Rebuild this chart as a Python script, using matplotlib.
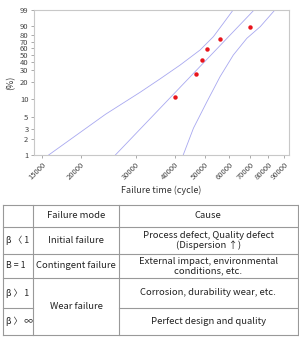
import numpy as np
import matplotlib.pyplot as plt

plt.rcParams['font.family'] = ['Noto Sans CJK KR', 'DejaVu Sans']

# failure data (cycles, median rank %)
fail_time = [40000, 47000, 49000, 51000, 56000, 70000]
fail_pct = [10.9, 26.6, 42.2, 57.8, 73.4, 89.1]

# fitted line and confidence bounds
fit_x = [25750, 72200]
fit_y = [1, 99]
upper_x = [15700, 24000, 31000, 35900, 41700, 48300, 53300, 57400, 61800]
upper_y = [1, 5.5, 13.3, 22.1, 36.2, 57.0, 77.2, 92.6, 99]
lower_x = [42600, 46000, 50800, 56000, 61800, 68300, 75400, 84200]
lower_y = [1, 3.1, 9.1, 24.0, 49.6, 74.9, 89.5, 99]

xticks = [15000, 20000, 30000, 40000, 50000, 60000, 70000, 80000, 90000]
yticks = [1, 2, 3, 5, 10, 20, 30, 40, 50, 60, 70, 80, 90, 99]

# table contents
beta_col = ['β 〈 1', 'B = 1', 'β 〉 1', 'β 〉 ∞']
mode_col = ['Initial failure', 'Contingent failure', 'Wear failure']
cause_col = ['Process defect, Quality defect\n(Dispersion ↑)',
             'External impact, environmental\nconditions, etc.',
             'Corrosion, durability wear, etc.',
             'Perfect design and quality']


def fwd(p):
    p = np.clip(np.asarray(p, dtype=float), 1e-6, 100 - 1e-6)
    return np.log(-np.log(1 - p / 100))


def inv(w):
    return 100 * (1 - np.exp(-np.exp(w)))


W, H = 299, 337
fig = plt.figure(figsize=(W / 100, H / 100), dpi=100)
ax = fig.add_axes([34 / W, 1 - 155.3 / H, 255 / W, 145.6 / H])

ax.set_xscale('log')
ax.set_yscale('function', functions=(fwd, inv))
ax.set_xlim(14130, 93300)
ax.set_ylim(1, 99)

lc = '#a8a8f0'
ax.plot(fit_x, fit_y, color=lc, lw=0.6)
ax.plot(upper_x, upper_y, color=lc, lw=0.6)
ax.plot(lower_x, lower_y, color=lc, lw=0.6)
ax.plot(fail_time, fail_pct, 'o', color='#e8141c', ms=3.2, mec='none')

ax.set_xticks(xticks)
ax.set_xticklabels([str(v) for v in xticks], rotation=45, ha='right',
                   rotation_mode='anchor', fontsize=5.5, color='#444444')
ax.xaxis.set_minor_locator(plt.NullLocator())
ax.set_yticks(yticks)
ax.set_yticklabels([str(v) for v in yticks], fontsize=5.5, color='#444444')
ax.yaxis.set_minor_locator(plt.NullLocator())
ax.tick_params(length=2.5, width=0.5, color='#888888', pad=1.5)
for s in ax.spines.values():
    s.set_color('#c8c8c8')
    s.set_linewidth(0.8)
ax.set_xlabel('Failure time (cycle)', fontsize=6.5, color='#333333', labelpad=3)
ax.set_ylabel('(%)', fontsize=6.5, color='#333333', labelpad=3)

# table drawn in figure pixel coordinates
tb = fig.add_axes([0, 0, 1, 1])
tb.set_xlim(0, W)
tb.set_ylim(H, 0)
tb.axis('off')
gc = '#999999'
cols = [2.7, 33.3, 119, 297.7]
rows = [205, 226.7, 254, 278, 307.7, 335]
for y in rows[:4] + rows[5:]:
    tb.plot([cols[0], cols[3]], [y, y], color=gc, lw=0.8)
# merged "Wear failure" cell: split only the outer columns
tb.plot([cols[0], cols[1]], [rows[4], rows[4]], color=gc, lw=0.8)
tb.plot([cols[2], cols[3]], [rows[4], rows[4]], color=gc, lw=0.8)
for x in cols:
    tb.plot([x, x], [rows[0], rows[5]], color=gc, lw=0.8)

fs = 6.8
tc = '#222222'
tb.text((cols[1] + cols[2]) / 2, (rows[0] + rows[1]) / 2, 'Failure mode',
        ha='center', va='center', fontsize=fs, color=tc)
tb.text((cols[2] + cols[3]) / 2, (rows[0] + rows[1]) / 2, 'Cause',
        ha='center', va='center', fontsize=fs, color=tc)
for i in range(4):
    yc = (rows[i + 1] + rows[i + 2]) / 2
    tb.text(cols[0] + 3, yc, beta_col[i], ha='left', va='center',
            fontsize=fs - 0.5, color=tc)
    tb.text((cols[2] + cols[3]) / 2, yc, cause_col[i], ha='center', va='center',
            fontsize=fs, color=tc, linespacing=1.1)
for i in range(2):
    yc = (rows[i + 1] + rows[i + 2]) / 2
    tb.text((cols[1] + cols[2]) / 2, yc, mode_col[i], ha='center', va='center',
            fontsize=fs, color=tc)
tb.text((cols[1] + cols[2]) / 2, (rows[3] + rows[5]) / 2, mode_col[2],
        ha='center', va='center', fontsize=fs, color=tc)

fig.savefig('out.png', dpi=100)
